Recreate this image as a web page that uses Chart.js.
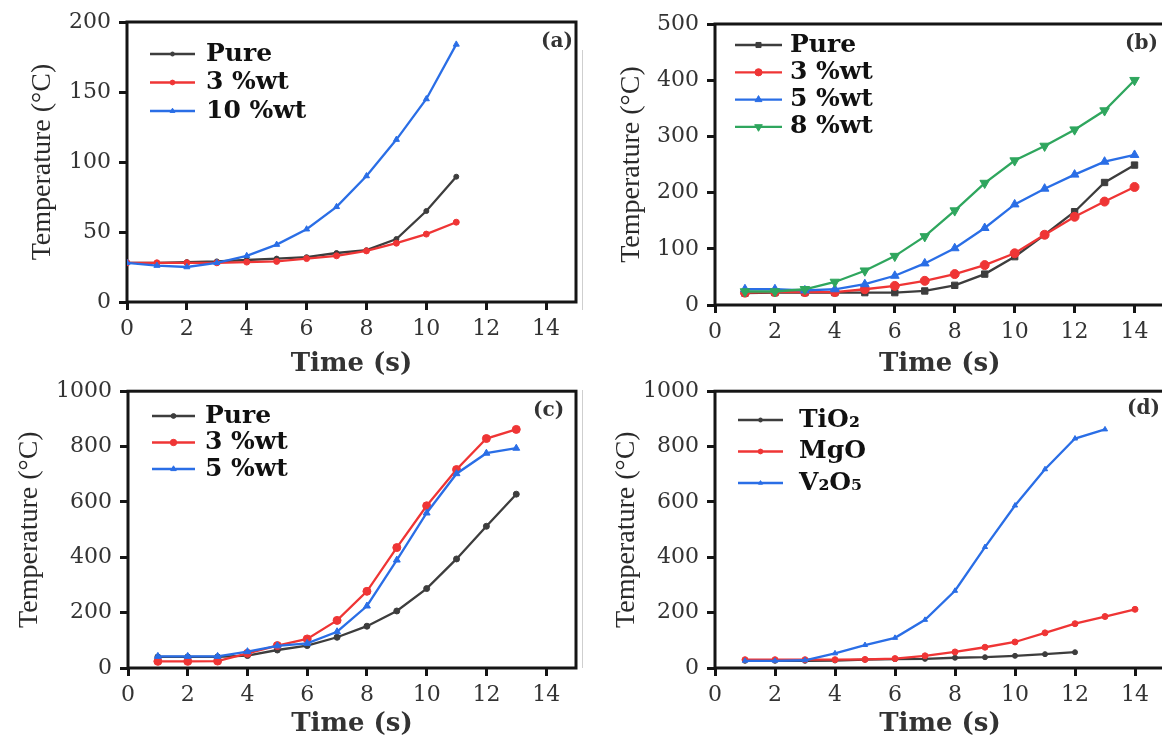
<!DOCTYPE html>
<html>
<head>
<meta charset="utf-8">
<script src="https://cdn.jsdelivr.net/npm/chart.js@4.4.1/dist/chart.umd.min.js"></script>
<style>
  html, body { margin: 0; padding: 0; background: #fff; overflow: hidden; }
  #wrap { position: relative; width: 1162px; height: 740px; overflow: hidden; }
  .panel { position: absolute; }
  .sep { position: absolute; left: 582px; width: 1px; background: #cfcfcf; }
</style>
</head>
<body>
<div id="wrap">
  <div class="sep" style="top:50px;height:260px"></div>
  <div class="sep" style="top:390px;height:278px"></div>
  <canvas id="chartA" class="panel" width="581" height="380" style="left:0;top:0"></canvas>
  <canvas id="chartB" class="panel" width="590" height="380" style="left:581px;top:0"></canvas>
  <canvas id="chartC" class="panel" width="581" height="370" style="left:0;top:370px"></canvas>
  <canvas id="chartD" class="panel" width="590" height="370" style="left:581px;top:370px"></canvas>
</div>
<script>
// ---- data ----
// (a)
const timeA = [0, 1, 2, 3, 4, 5, 6, 7, 8, 9, 10, 11];
const pureA = [28, 28, 28.5, 29, 30, 31, 32, 35, 37, 45, 65, 89.5];
const wt3A = [28, 28, 28, 28, 28.5, 29, 31, 33, 36.5, 42, 48.5, 57];
const wt10A = [28, 26, 25, 28, 33, 41, 52, 68, 90, 116, 145, 184];
// (b)
const timeB = [1, 2, 3, 4, 5, 6, 7, 8, 9, 10, 11, 12, 13, 14];
const pureB = [21, 22, 22, 22, 22, 22, 25, 35, 55, 86, 125, 166, 218, 249];
const wt3B = [22, 23, 23, 23, 28, 34, 43, 55, 71, 92, 125, 157, 184, 210];
const wt5B = [28, 28, 26, 28, 37, 52, 74, 101, 137, 179, 207, 232, 255, 267];
const wt8B = [24, 24, 28, 41, 61, 87, 122, 168, 217, 257, 283, 312, 346, 400];
// (c)
const timeC = [1, 2, 3, 4, 5, 6, 7, 8, 9, 10, 11, 12, 13];
const pureC = [40, 40, 40, 45, 65, 81, 111, 151, 206, 287, 394, 512, 628];
const wt3C = [24, 24, 25, 53, 81, 105, 172, 277, 435, 586, 717, 829, 862];
const wt5C = [42, 42, 42, 59, 80, 89, 131, 224, 390, 560, 702, 776, 794];
// (d)
const timeD = [1, 2, 3, 4, 5, 6, 7, 8, 9, 10, 11, 12, 13, 14];
const tio2D = [26, 26, 26, 27, 30, 32, 33, 37, 39, 44, 50, 57];
const mgoD = [30, 30, 30, 30, 31, 34, 44, 58, 75, 94, 127, 160, 186, 212];
const v2o5D = [26, 26, 28, 53, 83, 109, 174, 279, 437, 587, 718, 829, 862];

const xTicks = [0, 2, 4, 6, 8, 10, 12, 14];

const BLACK = '#3d3d3d', RED = '#ef3535', BLUE = '#2a6ee6', GREEN = '#2fa65e';

function pairs(xs, ys) {
  return ys.map((v, i) => ({ x: xs[i], y: v }));
}

// thick box round the plot area
const framePlugin = {
  id: 'frame',
  beforeDatasetsDraw(chart) {
    const { ctx, chartArea: a } = chart;
    ctx.save();
    ctx.strokeStyle = '#151515';
    ctx.lineWidth = 3;
    ctx.strokeRect(a.left, a.top, a.right - a.left, a.bottom - a.top);
    ctx.restore();
  }
};

// legend inside the plot (line + marker) and panel tag
const keyPlugin = {
  id: 'key',
  afterDraw(chart, args, o) {
    const ctx = chart.ctx;
    ctx.save();
    chart.data.datasets.forEach((ds, i) => {
      const y = o.y0 + i * o.dy;
      ctx.strokeStyle = ds.borderColor;
      ctx.lineWidth = ds.borderWidth;
      ctx.beginPath();
      ctx.moveTo(o.x0, y);
      ctx.lineTo(o.x1, y);
      ctx.stroke();
      ctx.fillStyle = ds.pointBackgroundColor;
      ctx.strokeStyle = ds.pointBorderColor;
      ctx.lineWidth = 1;
      Chart.helpers.drawPoint(ctx, {
        pointStyle: ds.pointStyle, radius: ds.pointRadius * 0.8,
        rotation: ds.pointRotation || 0, borderWidth: 1
      }, (o.x0 + o.x1) / 2, y);
      ctx.fillStyle = '#111';
      ctx.font = 'bold 25px "DejaVu Serif"';
      ctx.textBaseline = 'middle';
      ctx.textAlign = 'left';
      ctx.fillText(ds.label, o.tx, y);
    });
    ctx.fillStyle = '#333';
    ctx.font = 'bold 20px "DejaVu Serif"';
    ctx.textBaseline = 'middle';
    ctx.fillText(o.tag, chart.chartArea.left + o.tagDx, chart.chartArea.top + o.tagDy);
    ctx.restore();
  }
};

function makePanel(id, cfg) {
  const cv = document.getElementById(id);
  const W = cv.width, H = cv.height;
  const area = cfg.area;
  const n = cfg.series.length;
  return new Chart(cv, {
    type: 'line',
    data: {
      datasets: cfg.series.map((s, i) => ({
        label: s.label,
        data: pairs(s.x, s.y),
        borderColor: s.color,
        backgroundColor: s.color,
        pointBackgroundColor: s.color,
        pointBorderColor: s.color,
        borderWidth: 2.3,
        pointStyle: s.style,
        pointRadius: s.r,
        pointRotation: s.rot || 0,
        pointBorderWidth: 1,
        tension: 0,
        fill: false,
        order: n - i
      }))
    },
    options: {
      responsive: false,
      animation: false,
      devicePixelRatio: 1,
      layout: { padding: { left: 0, top: area.top, right: W - area.right, bottom: 0 } },
      plugins: {
        legend: { display: false },
        tooltip: { enabled: false },
        key: cfg.key
      },
      scales: {
        x: {
          type: 'linear',
          min: 0,
          max: 15,
          afterFit: (s) => { s.height = H - area.bottom; },
          afterBuildTicks: (s) => { s.ticks = xTicks.map(v => ({ value: v })); },
          ticks: {
            stepSize: 2, includeBounds: false, padding: 6,
            color: '#333', font: { family: 'DejaVu Serif', size: 22 },
            callback: (v) => String(v)
          },
          grid: { drawOnChartArea: false, drawTicks: true, tickLength: 8, tickWidth: 3, tickColor: '#151515' },
          border: { display: false },
          title: {
            display: true, text: 'Time (s)', color: '#333',
            font: { family: 'DejaVu Serif', size: 26, weight: 'bold' },
            padding: { top: 0, bottom: cfg.xTitlePad }
          }
        },
        y: {
          min: 0,
          max: cfg.yMax,
          afterFit: (s) => { s.width = area.left; },
          ticks: {
            stepSize: cfg.yStep, padding: 8,
            color: '#333', font: { family: 'DejaVu Serif', size: 22 },
            callback: (v) => String(v)
          },
          grid: { drawOnChartArea: false, drawTicks: true, tickLength: 8, tickWidth: 3, tickColor: '#151515' },
          border: { display: false },
          title: {
            display: true, text: 'Temperature (°C)', color: '#2a2a2a',
            font: { family: 'Liberation Serif', size: 28 },
            padding: { top: cfg.yTitlePad, bottom: 0 }
          }
        }
      }
    },
    plugins: [framePlugin, keyPlugin]
  });
}

makePanel('chartA', {
  area: { left: 127, top: 22, right: 578, bottom: 302 },
  yMax: 200, yStep: 50, yTitlePad: 26, xTitlePad: 0,
  key: { x0: 150, x1: 195, tx: 206, y0: 54, dy: 28.5, tag: '(a)', tagDx: 414, tagDy: 20 },
  series: [
    { label: 'Pure', x: timeA, y: pureA, color: BLACK, style: 'circle', r: 2.5 },
    { label: '3 %wt', x: timeA, y: wt3A, color: RED, style: 'circle', r: 3 },
    { label: '10 %wt', x: timeA, y: wt10A, color: BLUE, style: 'triangle', r: 3.5 }
  ]
});

makePanel('chartB', {
  area: { left: 134, top: 24, right: 584, bottom: 305 },
  yMax: 500, yStep: 100, yTitlePad: 34, xTitlePad: 0,
  key: { x0: 154, x1: 201, tx: 209, y0: 45, dy: 27.3, tag: '(b)', tagDx: 410, tagDy: 20 },
  series: [
    { label: 'Pure', x: timeB, y: pureB, color: BLACK, style: 'rect', r: 4.5 },
    { label: '3 %wt', x: timeB, y: wt3B, color: RED, style: 'circle', r: 4.5 },
    { label: '5 %wt', x: timeB, y: wt5B, color: BLUE, style: 'triangle', r: 5 },
    { label: '8 %wt', x: timeB, y: wt8B, color: GREEN, style: 'triangle', r: 5.5, rot: 180 }
  ]
});

makePanel('chartC', {
  area: { left: 128, top: 17, right: 579, bottom: 298 },
  yMax: 1000, yStep: 200, yTitlePad: 13, xTitlePad: 0,
  key: { x0: 152, x1: 195, tx: 205, y0: 46, dy: 26.5, tag: '(c)', tagDx: 405, tagDy: 20 },
  series: [
    { label: 'Pure', x: timeC, y: pureC, color: BLACK, style: 'circle', r: 3 },
    { label: '3 %wt', x: timeC, y: wt3C, color: RED, style: 'circle', r: 4 },
    { label: '5 %wt', x: timeC, y: wt5C, color: BLUE, style: 'triangle', r: 4 }
  ]
});

makePanel('chartD', {
  area: { left: 134, top: 17, right: 584, bottom: 298 },
  yMax: 1000, yStep: 200, yTitlePad: 29, xTitlePad: 0,
  key: { x0: 157, x1: 202, tx: 218, y0: 50, dy: 31.5, tag: '(d)', tagDx: 412, tagDy: 18 },
  series: [
    { label: 'TiO₂', x: timeD, y: tio2D, color: BLACK, style: 'circle', r: 2.5 },
    { label: 'MgO', x: timeD, y: mgoD, color: RED, style: 'circle', r: 3 },
    { label: 'V₂O₅', x: timeD, y: v2o5D, color: BLUE, style: 'triangle', r: 3 }
  ]
});
</script>
</body>
</html>
